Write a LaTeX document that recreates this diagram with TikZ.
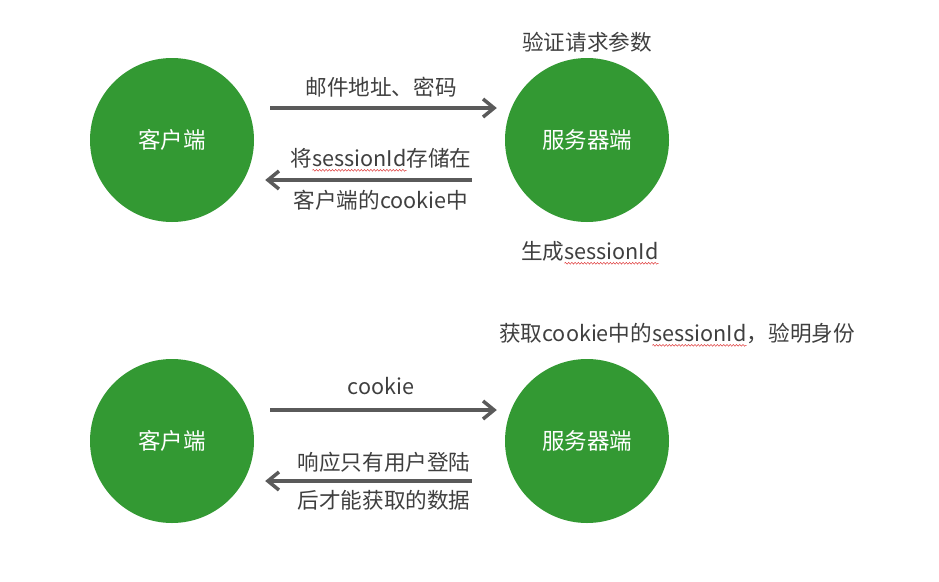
\documentclass[tikz,border=0pt]{standalone}
\usepackage{fontspec}
\setmainfont{Noto Sans CJK SC}
\usetikzlibrary{arrows.meta,decorations.pathmorphing}
\definecolor{nodegreen}{HTML}{339933}
\definecolor{arrowgray}{HTML}{5A5A5A}
\definecolor{textgray}{HTML}{3F3F3F}
\definecolor{spellred}{HTML}{E04040}
% word marked with a red wavy underline
\newcommand\wavyword[1]{\tikz[baseline=(ww.base)]{%
  \node[inner sep=0pt,outer sep=0pt](ww){#1};%
  \draw[spellred,line width=0.5pt,decorate,decoration={snake,amplitude=0.9pt,segment length=3.2pt}]
    ([yshift=-3.5pt]ww.base west) -- ([yshift=-3.5pt]ww.base east);}}
\tikzset{
  endpoint/.style={circle,fill=nodegreen,draw=none,minimum size=164pt,inner sep=0pt,
    text=white,font=\fontsize{22.5}{26}\selectfont},
  label/.style={inner sep=1pt,text=textgray,font=\fontsize{21.6}{25}\selectfont,align=center},
  flow/.style={draw=arrowgray,line width=3.5pt,
    -{Straight Barb[length=11pt,width=18pt,line width=3.5pt]}},
}
\begin{document}
\begin{tikzpicture}[x=1pt,y=-1pt]
\useasboundingbox (0,0) rectangle (939,581);
\fill[white] (0,0) rectangle (939,581);

% login: credentials go out, session id comes back
\node[endpoint] (client1) at (172,140) {客户端};
\node[endpoint] (server1) at (587,140) {服务器端};
\draw[flow] ([xshift=16pt,yshift=32pt]client1.east) -- ([xshift=-8pt,yshift=32pt]server1.west);
\draw[flow] ([xshift=-33pt,yshift=-40pt]server1.west) -- ([xshift=11pt,yshift=-40pt]client1.east);
\node[label] (send1) at (381,87) {邮件地址、密码};
\node[label] (store1) at (381,160) {将\wavyword{sessionId}存储在};
\node[label] (store2) at (381,200) {客户端的cookie中};
\node[label] (check) at (587,42) {验证请求参数};
\node[label] (gen) at (590,253) {生成\wavyword{sessionId}};

% later requests: cookie goes out, protected data comes back
\node[endpoint] (client2) at (172,441) {客户端};
\node[endpoint] (server2) at (587,441) {服务器端};
\draw[flow] ([xshift=16pt,yshift=31pt]client2.east) -- ([xshift=-8pt,yshift=31pt]server2.west);
\draw[flow] ([xshift=-33pt,yshift=-40pt]server2.west) -- ([xshift=11pt,yshift=-40pt]client2.east);
\node[label] (send2) at (381,386) {cookie};
\node[label] (verify) at (677,335) {获取cookie中的\wavyword{sessionId}，验明身份};
\node[label] (resp1) at (384,462) {响应只有用户登陆};
\node[label] (resp2) at (384,500) {后才能获取的数据};
\end{tikzpicture}
\end{document}
